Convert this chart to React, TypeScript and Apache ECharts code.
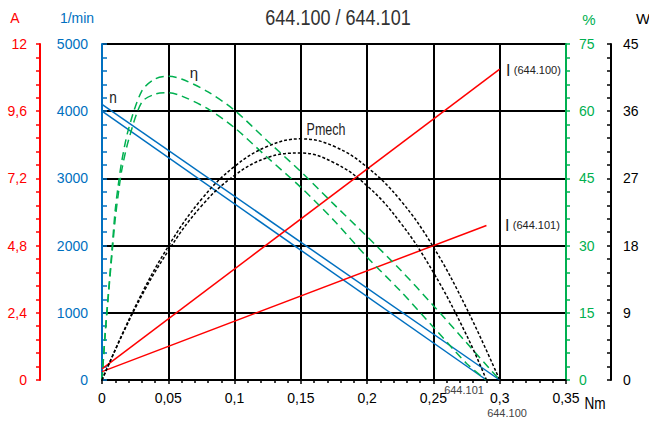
import React, { useEffect, useRef } from "react";
import * as echarts from "echarts";

// Speed n (1/min) vs torque (Nm)
const speed100 = [[0, 4100], [0.3, 0]];
const speed101 = [[0, 4000], [0.29, 0]];

// Current I (A) vs torque
const current100 = [[0, 0.4], [0.3, 11.1]];
const current101 = [[0, 0.3], [0.29, 5.52]];

// Efficiency (%) vs torque
const effTorque100 = [0, 0.0025, 0.005, 0.0075, 0.01, 0.0125, 0.015, 0.02, 0.03, 0.04, 0.05, 0.06, 0.08, 0.1, 0.125, 0.15, 0.175, 0.2, 0.225, 0.25, 0.275, 0.3];
const eff100 = [0, 11, 20, 29, 38, 44, 49, 56, 64.5, 67.2, 67.8, 67.2, 64.3, 60.2, 53.3, 46.5, 39.2, 32, 24.6, 16.6, 8.3, 0];
const effTorque101 = [0, 0.0025, 0.005, 0.0075, 0.01, 0.0125, 0.015, 0.02, 0.03, 0.04, 0.05, 0.06, 0.08, 0.1, 0.125, 0.15, 0.175, 0.2, 0.225, 0.25, 0.275, 0.29];
const eff101 = [0, 10.5, 19.5, 28, 36, 42, 47, 53.5, 62, 63.8, 64.1, 63.4, 60.5, 56.3, 49.6, 43, 35.6, 27.4, 19.9, 11.8, 3.7, 0];

// Mechanical power (W) vs torque
const powTorque100 = [0, 0.025, 0.05, 0.075, 0.1, 0.125, 0.15, 0.175, 0.2, 0.225, 0.25, 0.275, 0.3];
const pow100 = [0, 9.8, 17.9, 24.2, 28.6, 31.3, 32.3, 31.3, 28.5, 24.1, 17.8, 9.6, 0];
const powTorque101 = [0, 0.025, 0.05, 0.075, 0.1, 0.125, 0.15, 0.175, 0.2, 0.225, 0.25, 0.275, 0.29];
const pow101 = [0, 9.6, 17.3, 23.3, 27.4, 29.8, 30.4, 29.1, 26.0, 21.1, 14.4, 6.0, 0];

const BLUE = "#0070C0";
const RED = "#FF0000";
const GREEN = "#00B050";
const BLACK = "#000000";
const FONT = "'Liberation Sans', Arial, sans-serif";
const NARROW = "'Liberation Sans Narrow', 'Liberation Sans', Arial, sans-serif";

const zip = (xs: number[], ys: number[]) => xs.map((x, i) => [x, ys[i]]);
const comma = (v: number, d: number) => String(+v.toFixed(d)).replace(".", ",");

const txt = (x: number, y: number, text: string, fill: string, fontSize: number, fontFamily: string, extra: any = {}) => ({
  type: "text",
  x,
  y,
  ...extra,
  style: { text, fill, fontSize, fontFamily, align: "center", verticalAlign: "middle" },
});

export default function App() {
  const ref = useRef<HTMLDivElement>(null);
  useEffect(() => {
    if (!ref.current) return;
    const chart = echarts.init(ref.current, undefined, { renderer: "svg" });
    const yAxisBase = (color: string) => ({
      type: "value" as const,
      axisLine: { show: true, lineStyle: { color, width: 2 } },
      splitLine: { show: false },
    });
    const rich = {
      a: { fontSize: 16, fontFamily: NARROW, fill: "#222" },
      b: { fontSize: 11, fontFamily: NARROW, fill: "#222" },
    };
    const option: any = {
      animation: false,
      backgroundColor: "#fff",
      grid: { left: 102, right: 83, top: 44, bottom: 43, containLabel: false },
      xAxis: {
        type: "value",
        min: 0,
        max: 0.35,
        interval: 0.05,
        axisLine: { show: true, lineStyle: { color: BLACK, width: 2 } },
        axisTick: { show: true, length: 4, lineStyle: { color: BLACK, width: 1.5 } },
        minorTick: { show: true, splitNumber: 5, length: 3, lineStyle: { color: BLACK, width: 1.5 } },
        splitLine: { show: true, lineStyle: { color: BLACK, width: 2 } },
        axisLabel: {
          color: BLACK,
          fontSize: 14,
          fontFamily: FONT,
          margin: 11,
          formatter: (v: number) => comma(v, 2),
        },
      },
      yAxis: [
        {
          ...yAxisBase(BLUE),
          position: "left",
          offset: 0,
          min: 0,
          max: 5000,
          interval: 1000,
          axisTick: { show: true, inside: true, length: 5, lineStyle: { color: BLUE, width: 1.5 } },
          minorTick: { show: true, splitNumber: 5, length: 5, lineStyle: { color: BLUE, width: 1.5 } },
          splitLine: { show: true, lineStyle: { color: BLACK, width: 2 } },
          axisLabel: { color: BLUE, fontSize: 14, fontFamily: FONT, margin: 14, formatter: (v: number) => String(v) },
        },
        {
          ...yAxisBase(RED),
          position: "left",
          offset: 62,
          min: 0,
          max: 12,
          interval: 2.4,
          axisTick: { show: true, inside: false, length: 4, lineStyle: { color: RED, width: 1.5 } },
          minorTick: { show: true, splitNumber: 5, length: 4, lineStyle: { color: RED, width: 1.5 } },
          axisLabel: { color: RED, fontSize: 14, fontFamily: FONT, margin: 13, formatter: (v: number) => comma(v, 1) },
        },
        {
          ...yAxisBase(GREEN),
          position: "right",
          offset: 0,
          min: 0,
          max: 75,
          interval: 15,
          axisTick: { show: true, inside: false, length: 4, lineStyle: { color: GREEN, width: 1.5 } },
          minorTick: { show: true, splitNumber: 5, length: 4, lineStyle: { color: GREEN, width: 1.5 } },
          axisLabel: { color: GREEN, fontSize: 14, fontFamily: FONT, margin: 13, formatter: (v: number) => String(v) },
        },
        {
          ...yAxisBase(BLACK),
          position: "right",
          offset: 45,
          min: 0,
          max: 45,
          interval: 9,
          axisTick: { show: true, inside: true, length: 4, lineStyle: { color: BLACK, width: 1.5 } },
          minorTick: { show: true, splitNumber: 5, length: 4, lineStyle: { color: BLACK, width: 1.5 } },
          axisLabel: { color: BLACK, fontSize: 14, fontFamily: FONT, margin: 12, formatter: (v: number) => String(v) },
        },
      ],
      series: [
        { name: "n 644.100", type: "line", yAxisIndex: 0, data: speed100, symbol: "none", lineStyle: { color: BLUE, width: 1.5 } },
        { name: "n 644.101", type: "line", yAxisIndex: 0, data: speed101, symbol: "none", lineStyle: { color: BLUE, width: 1.5 } },
        { name: "I 644.100", type: "line", yAxisIndex: 1, data: current100, symbol: "none", lineStyle: { color: RED, width: 1.5 } },
        { name: "I 644.101", type: "line", yAxisIndex: 1, data: current101, symbol: "none", lineStyle: { color: RED, width: 1.5 } },
        { name: "eta 644.100", type: "line", yAxisIndex: 2, data: zip(effTorque100, eff100), symbol: "none", smooth: 0.3, lineStyle: { color: GREEN, width: 1.5, type: [8, 5] } },
        { name: "eta 644.101", type: "line", yAxisIndex: 2, data: zip(effTorque101, eff101), symbol: "none", smooth: 0.3, lineStyle: { color: GREEN, width: 1.5, type: [8, 5] } },
        { name: "P 644.100", type: "line", yAxisIndex: 3, data: zip(powTorque100, pow100), symbol: "none", smooth: 0.4, lineStyle: { color: BLACK, width: 1.5, type: [3, 2] } },
        { name: "P 644.101", type: "line", yAxisIndex: 3, data: zip(powTorque101, pow101), symbol: "none", smooth: 0.4, lineStyle: { color: BLACK, width: 1.5, type: [3, 2] } },
      ],
      graphic: [
        txt(338, 17, "644.100 / 644.101", "#333", 22, NARROW, { scaleX: 0.82 }),
        txt(15, 18, "A", RED, 14, FONT),
        txt(77, 18, "1/min", BLUE, 14, FONT),
        txt(589, 19, "%", GREEN, 15, FONT),
        txt(643, 18, "W", BLACK, 15, FONT),
        txt(113, 98, "n", "#222", 16, NARROW, { scaleX: 0.85 }),
        txt(194, 72, "η", "#222", 15, FONT),
        txt(326, 129, "Pmech", "#222", 16, NARROW, { scaleX: 0.78 }),
        { type: "text", x: 506, y: 70, style: { text: "{a|I} {b|(644.100)}", align: "left", verticalAlign: "middle", rich } },
        { type: "text", x: 505, y: 225, style: { text: "{a|I} {b|(644.101)}", align: "left", verticalAlign: "middle", rich } },
        txt(464, 390, "644.101", "#444", 11, NARROW),
        txt(507, 413, "644.100", "#444", 11, NARROW),
        txt(595, 404, "Nm", BLACK, 16, NARROW, { scaleX: 0.85 }),
      ],
    };
    chart.setOption(option);
    return () => chart.dispose();
  }, []);
  return <div ref={ref} style={{ position: "fixed", left: 0, top: 0, width: 649, height: 423 }} />;
}
